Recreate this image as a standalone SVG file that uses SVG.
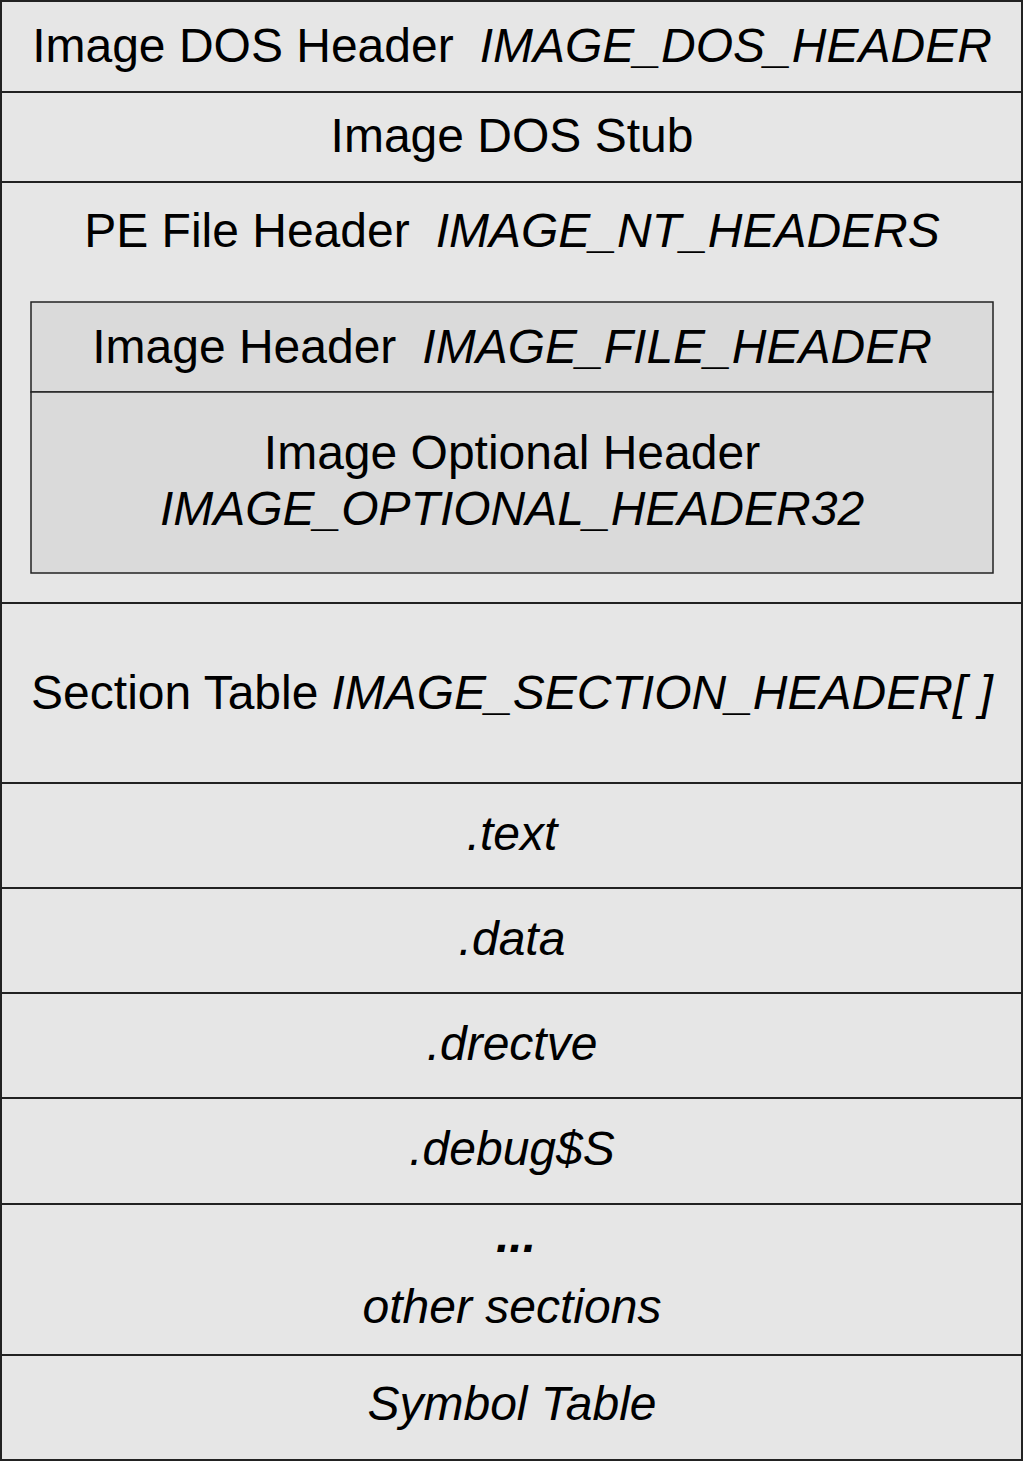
<svg xmlns="http://www.w3.org/2000/svg" width="1024" height="1462" viewBox="0 0 1024 1462">
<style>
.row{fill:#e6e6e6;stroke:#222;stroke-width:2}
.inner{fill:#dadada;stroke:#222;stroke-width:1.5}
text{font-family:"Liberation Sans",Arial,sans-serif;font-size:48px;fill:#000;text-anchor:middle}
.i{font-style:italic}
.b{font-weight:bold}
</style>
<rect x="0" y="0" width="1024" height="1462" fill="#ffffff"/>
<g id="dos-header"><rect class="row" x="1" y="1" width="1021" height="91"/><text x="512" y="62">Image DOS Header<tspan class="i" dx="26">IMAGE_DOS_HEADER</tspan></text></g>
<g id="dos-stub"><rect class="row" x="1" y="92" width="1021" height="90"/><text x="512" y="152">Image DOS Stub</text></g>
<g id="pe-header"><rect class="row" x="1" y="182" width="1021" height="421"/><text x="512" y="247">PE File Header<tspan class="i" dx="26">IMAGE_NT_HEADERS</tspan></text></g>
<g id="file-header"><rect class="inner" x="31" y="302" width="962" height="90"/><text x="512" y="363">Image Header<tspan class="i" dx="26">IMAGE_FILE_HEADER</tspan></text></g>
<g id="optional-header"><rect class="inner" x="31" y="392" width="962" height="181"/><text x="512" y="469">Image Optional Header</text><text class="i" x="512" y="525">IMAGE_OPTIONAL_HEADER32</text></g>
<g id="section-table"><rect class="row" x="1" y="603" width="1021" height="180"/><text x="512" y="709">Section Table<tspan class="i" dx="13">IMAGE_SECTION_HEADER[ ]</tspan></text></g>
<g id="text"><rect class="row" x="1" y="783" width="1021" height="105"/><text class="i" x="512" y="850">.text</text></g>
<g id="data"><rect class="row" x="1" y="888" width="1021" height="105"/><text class="i" x="512" y="955">.data</text></g>
<g id="drectve"><rect class="row" x="1" y="993" width="1021" height="105"/><text class="i" x="512" y="1060">.drectve</text></g>
<g id="debug"><rect class="row" x="1" y="1098" width="1021" height="106"/><text class="i" x="512" y="1165">.debug$S</text></g>
<g id="other"><rect class="row" x="1" y="1204" width="1021" height="151"/><text class="i b" x="516" y="1252">...</text><text class="i" x="512" y="1323">other sections</text></g>
<g id="symbol-table"><rect class="row" x="1" y="1355" width="1021" height="105"/><text class="i" x="512" y="1420">Symbol Table</text></g>
<g id="connectors"/>
</svg>
